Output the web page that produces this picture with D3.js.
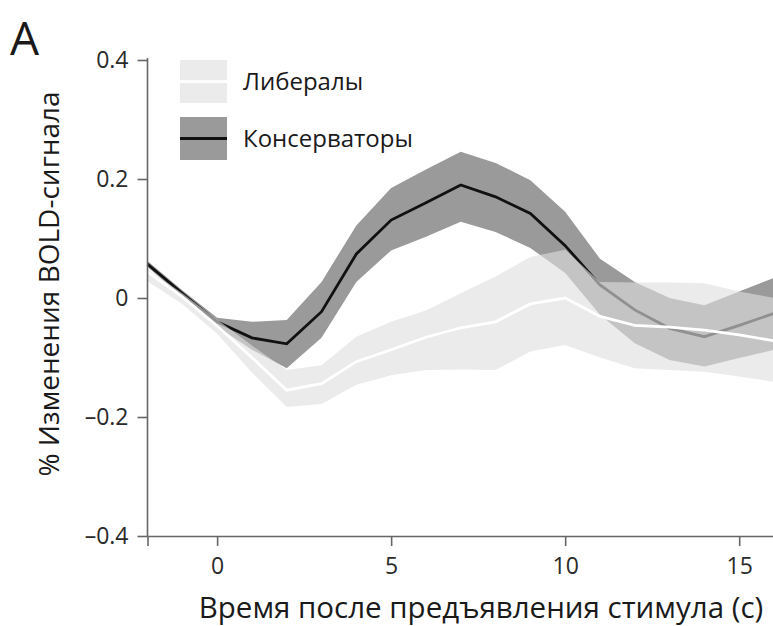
<!DOCTYPE html>
<html>
<head>
<meta charset="utf-8">
<script src="https://cdn.jsdelivr.net/npm/d3@7"></script>
<style>
    body { margin: 0; background: #fff; }
    svg { display: block; font-family: "Open Sans", sans-serif; }
</style>
</head>
<body>
<svg width="773" height="626"></svg>
<script>
const width = 773;
const height = 626;

// data (seconds after stimulus, % BOLD change)
const timeSec = [-2, -1, 0, 1, 2, 3, 4, 5, 6, 7, 8, 9, 10, 11, 12, 13, 14, 15, 16];
const consMean = [0.057, 0.008, -0.04, -0.067, -0.077, -0.023, 0.074, 0.131, 0.16, 0.19, 0.17, 0.142, 0.088, 0.022, -0.02, -0.051, -0.065, -0.046, -0.026];
const consUpper = [0.062, 0.013, -0.033, -0.04, -0.037, 0.027, 0.122, 0.185, 0.216, 0.246, 0.227, 0.198, 0.145, 0.066, 0.027, 0.0, -0.012, 0.011, 0.034];
const consLower = [0.052, 0.002, -0.048, -0.087, -0.118, -0.067, 0.027, 0.08, 0.103, 0.128, 0.111, 0.084, 0.042, -0.028, -0.076, -0.104, -0.115, -0.101, -0.087];
const libMean = [0.044, 0.002, -0.047, -0.1, -0.155, -0.144, -0.107, -0.087, -0.066, -0.05, -0.04, -0.01, 0.0, -0.031, -0.046, -0.049, -0.054, -0.062, -0.072];
const libUpper = [0.048, 0.008, -0.036, -0.08, -0.121, -0.113, -0.065, -0.04, -0.021, 0.008, 0.036, 0.069, 0.081, 0.027, 0.026, 0.026, 0.025, 0.011, 0.0];
const libLower = [0.028, -0.01, -0.06, -0.125, -0.183, -0.178, -0.146, -0.13, -0.121, -0.12, -0.121, -0.09, -0.079, -0.1, -0.118, -0.121, -0.124, -0.132, -0.141];

const xTicks = [-2, 0, 5, 10, 15];
const yTicks = [-0.4, -0.2, 0, 0.2, 0.4];
const groups = ["Либералы", "Консерваторы"];

const svg = d3.select("svg");

const x = d3.scaleLinear().domain([-2, 16]).range([147.5, 774]);
const y = d3.scaleLinear().domain([-0.4, 0.4]).range([536, 60]);

const rows = timeSec.map((t, i) => ({
    t: t,
    cm: consMean[i], cu: consUpper[i], cl: consLower[i],
    lm: libMean[i], lu: libUpper[i], ll: libLower[i],
}));

const band = (up, lo) => d3.area()
    .x((d) => x(d.t))
    .y0((d) => y(d[lo]))
    .y1((d) => y(d[up]));
const line = (key) => d3.line()
    .x((d) => x(d.t))
    .y((d) => y(d[key]));

const plot = svg.append("g");

// conservatives first, liberal band sits on top semi transparent
plot.append("path")
    .attr("d", band("cu", "cl")(rows))
    .attr("fill", "#9a9a9a");
plot.append("path")
    .attr("d", line("cm")(rows))
    .attr("fill", "none")
    .attr("stroke", "#111")
    .attr("stroke-width", 2.8);
plot.append("path")
    .attr("d", band("lu", "ll")(rows))
    .attr("fill", "#dedede")
    .attr("fill-opacity", 0.62);
plot.append("path")
    .attr("d", line("lm")(rows))
    .attr("fill", "none")
    .attr("stroke", "#fff")
    .attr("stroke-width", 2.8);

const fmt = (d) => d === 0 ? "0" : (d < 0 ? "–" : "") + d3.format(".1f")(Math.abs(d));

svg.append("g")
    .attr("transform", `translate(${x(-2)},0)`)
    .call(d3.axisLeft(y).tickValues(yTicks).tickFormat(fmt).tickSize(10).tickSizeOuter(0).tickPadding(9))
    .call((g) => g.select(".domain").attr("d", `M0,${y(0.4) - 2}V${y(-0.4)}`))
    .call((g) => g.selectAll("line, path").attr("stroke", "#666").attr("stroke-width", 1.6))
    .call((g) => g.selectAll("text")
        .attr("font-size", 23)
        .attr("font-family", "Open Sans")
        .attr("fill", "#2a2a2a"));

svg.append("g")
    .attr("transform", `translate(0,${y(-0.4)})`)
    .call(d3.axisBottom(x).tickValues(xTicks).tickFormat((d) => d === -2 ? "" : d).tickSize(10).tickSizeOuter(0).tickPadding(12))
    .call((g) => g.selectAll("line, path").attr("stroke", "#666").attr("stroke-width", 1.6))
    .call((g) => g.selectAll("text")
        .attr("font-size", 23)
        .attr("font-family", "Open Sans")
        .attr("fill", "#2a2a2a"));

// axis titles
svg.append("text")
    .attr("x", 481)
    .attr("y", 618)
    .attr("text-anchor", "middle")
    .attr("font-size", 29.5)
    .attr("fill", "#1a1a1a")
    .text("Время после предъявления стимула (с)");

svg.append("text")
    .attr("transform", "translate(59,284) rotate(-90)")
    .attr("text-anchor", "middle")
    .attr("font-size", 28)
    .attr("fill", "#1a1a1a")
    .text("% Изменения BOLD-сигнала");

svg.append("text")
    .attr("x", 10)
    .attr("y", 55)
    .attr("font-size", 46)
    .attr("fill", "#1a1a1a")
    .text("A");

// legend
const legend = svg.append("g").attr("transform", "translate(180,60)");
const swatch = [
    { fill: "#ebebeb", stroke: "#fff" },
    { fill: "#9a9a9a", stroke: "#111" },
];
groups.forEach((name, i) => {
    const row = legend.append("g").attr("transform", `translate(0,${i * 57})`);
    row.append("rect")
        .attr("width", 47)
        .attr("height", 43)
        .attr("fill", swatch[i].fill);
    row.append("line")
        .attr("x1", 0)
        .attr("x2", 47)
        .attr("y1", 21.5)
        .attr("y2", 21.5)
        .attr("stroke", swatch[i].stroke)
        .attr("stroke-width", 3);
    row.append("text")
        .attr("x", 63)
        .attr("y", 21.5)
        .attr("dy", "0.35em")
        .attr("font-size", 24)
        .attr("fill", "#1a1a1a")
        .text(name);
});
</script>
</body>
</html>
